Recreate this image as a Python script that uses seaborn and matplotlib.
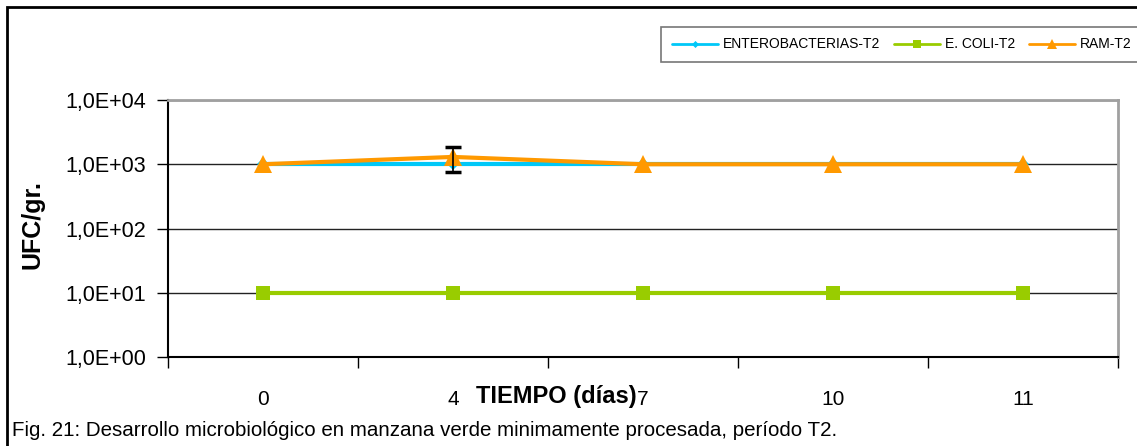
import numpy as np
import pandas as pd
import matplotlib
matplotlib.use("Agg")
import matplotlib.pyplot as plt
import matplotlib.ticker as mticker
from matplotlib.patches import Rectangle
import seaborn as sns

# ==============================
# DATA
# ==============================
dias = ["0", "4", "7", "10", "11"]
enterobacterias = [1000, 1000, 1000, 1000, 1000]
e_coli = [10, 10, 10, 10, 10]
ram = [1000, 1300, 1000, 1000, 1000]
ram_err = [0, 540, 0, 0, 0]

series = ["ENTEROBACTERIAS-T2", "E. COLI-T2", "RAM-T2"]
colores = ["#00C8F8", "#99CC00", "#FF9900"]
marcadores = ["D", "s", "^"]
tamanos = [6, 10, 13]

sns.set_style("white")
plt.rcParams["font.family"] = ["Liberation Sans", "DejaVu Sans"]
plt.rcParams["text.color"] = "black"
plt.rcParams["xtick.color"] = "black"
plt.rcParams["ytick.color"] = "black"

fig = plt.figure(figsize=(11.37, 4.46), dpi=100)
ax = fig.add_axes([168 / 1137, 1 - 357 / 446, (1118 - 168) / 1137, (357 - 100) / 446])

pos = np.arange(len(dias))
valores = [enterobacterias, e_coli, ram]
for nombre, vals, c, m, ms in zip(series, valores, colores, marcadores, tamanos):
    df = pd.DataFrame({"x": pos, "y": vals})
    sns.lineplot(data=df, x="x", y="y", ax=ax, color=c, lw=3, marker=m,
                 markersize=ms, markeredgewidth=0, label=nombre, legend=False,
                 zorder=3)

# error bar only where there is a deviation
con_err = np.array(ram_err) > 0
ax.errorbar(pos[con_err], np.array(ram)[con_err], yerr=np.array(ram_err)[con_err],
            fmt="none", ecolor="black", elinewidth=1.2, capsize=6, capthick=2.5,
            zorder=4)

ax.set_yscale("log")
ax.set_ylim(1, 10000)
ax.set_xlim(-0.5, len(dias) - 0.5)
ax.yaxis.set_major_locator(mticker.FixedLocator([1, 10, 100, 1000, 10000]))
ax.yaxis.set_minor_locator(mticker.NullLocator())
ax.yaxis.set_major_formatter(mticker.FuncFormatter(
    lambda v, p: "1,0E+%02d" % int(round(np.log10(v)))))
ax.grid(axis="y", color="#222222", lw=1)
ax.tick_params(axis="y", which="major", direction="out", length=8, width=1,
               color="black", labelsize=15.5, pad=8, left=True)

# category ticks between groups, labels centred
ax.set_xticks(np.arange(-0.5, len(dias)))
ax.set_xticklabels([])
ax.set_xticks(pos, minor=True)
ax.set_xticklabels(dias, minor=True, fontsize=15)
ax.tick_params(axis="x", which="major", direction="out", length=8, width=1,
               color="black", bottom=True)
ax.tick_params(axis="x", which="minor", length=0, pad=24)

ax.set_xlabel("")
ax.set_ylabel("")
for s in ["left", "bottom"]:
    ax.spines[s].set_color("black")
    ax.spines[s].set_linewidth(1.5)
for s in ["top", "right"]:
    ax.spines[s].set_color("#A0A0A0")
    ax.spines[s].set_linewidth(2)

fig.text(556 / 1137, 1 - 397 / 446, "TIEMPO (días)", ha="center", va="center",
         fontsize=17, fontweight="bold")
fig.text(32 / 1137, 1 - 225 / 446, "UFC/gr.", ha="center", va="center",
         rotation=90, fontsize=18, fontweight="bold")
fig.text(12 / 1137, 1 - 430 / 446,
         "Fig. 21: Desarrollo microbiológico en manzana verde minimamente procesada, período T2.",
         ha="left", va="center", fontsize=14.8)

leg = fig.legend(handles=ax.get_lines()[:3], labels=series, ncol=3,
                 loc="upper right", bbox_to_anchor=(1.004, 1 - 27 / 446),
                 borderaxespad=0, fontsize=10, frameon=True, fancybox=False,
                 handlelength=3.3, columnspacing=1.0, handletextpad=0.35,
                 borderpad=0.75, markerscale=0.6)
leg.get_frame().set_edgecolor("#555555")
leg.get_frame().set_linewidth(1.2)
for h in leg.legend_handles:
    h.set_linewidth(2)

# outer frame
fig.patches.append(Rectangle((7 / 1137, -0.1), 1.2, 1.1 - 7 / 446,
                             transform=fig.transFigure, fill=False,
                             edgecolor="black", lw=2, zorder=10))

fig.savefig("out.png", dpi=100)
